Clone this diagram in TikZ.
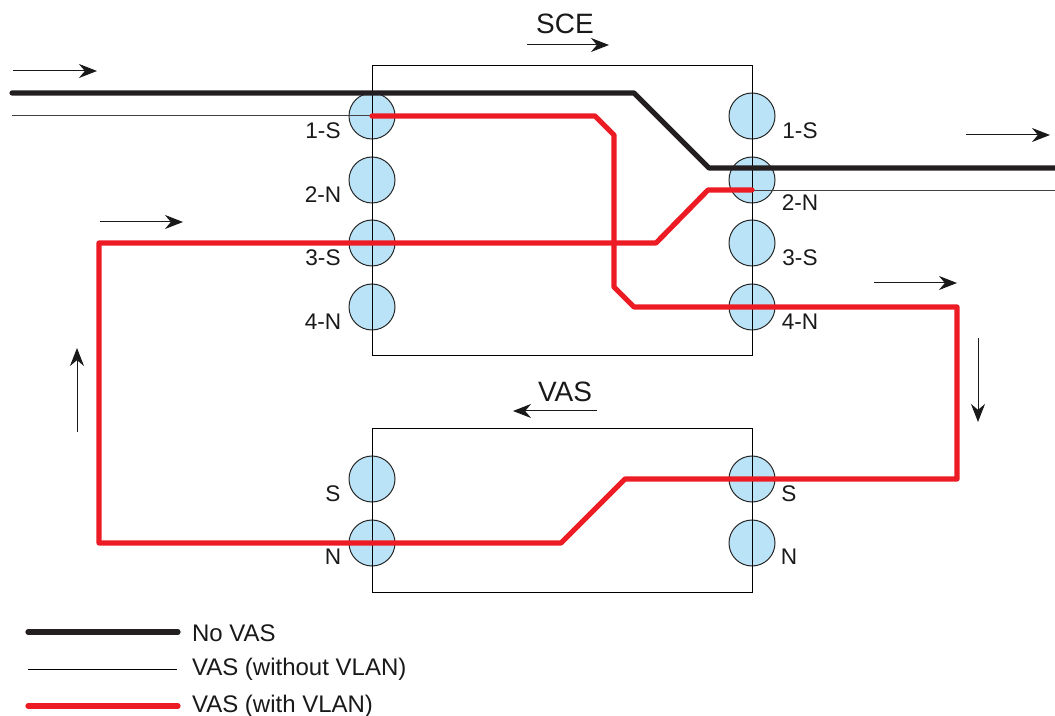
\documentclass[tikz,border=0pt]{standalone}
\usepackage{fontspec}
\setmainfont{Liberation Sans}
\usetikzlibrary{arrows.meta}
\definecolor{portblue}{RGB}{187,227,247}
\definecolor{vlanred}{RGB}{237,28,36}
\definecolor{novasblack}{RGB}{35,31,32}
\tikzset{
  port/.style={circle, draw=black!85, fill=portblue, line width=0.5pt, minimum size=23pt, inner sep=0pt},
  portlbl/.style={font=\fontsize{11.3}{13}\selectfont, text=black!90},
  boxtitle/.style={font=\fontsize{14}{16}\selectfont, text=black!90},
  legendlbl/.style={font=\fontsize{12}{14}\selectfont, text=black!90, anchor=west},
  flow/.style={-{Stealth[length=9pt,width=7pt]}, line width=0.5pt, black!90},
  novasline/.style={novasblack, line width=2.6pt, line cap=round, line join=round},
  thinline/.style={black!75, line width=0.5pt},
  vlanline/.style={vlanred, line width=2.6pt, line cap=round, line join=round},
}
\begin{document}
\begin{tikzpicture}[x=0.5pt, y=-0.5pt]
    \useasboundingbox (0,0) rectangle (1055,716);

    % SCE ports
    \node[port] (sceL1) at (372,116) {};
    \node[port] (sceL2) at (372,180) {};
    \node[port] (sceL3) at (372,243) {};
    \node[port] (sceL4) at (372,307) {};
    \node[port] (sceR1) at (752,116) {};
    \node[port] (sceR2) at (752,180) {};
    \node[port] (sceR3) at (752,243) {};
    \node[port] (sceR4) at (752,307) {};

    \node[portlbl] (lblL1) at (323,131) {1-S};
    \node[portlbl] (lblL2) at (323,195) {2-N};
    \node[portlbl] (lblL3) at (323,258) {3-S};
    \node[portlbl] (lblL4) at (323,322) {4-N};
    \node[portlbl] (lblR1) at (800,131) {1-S};
    \node[portlbl] (lblR2) at (800,203) {2-N};
    \node[portlbl] (lblR3) at (800,258) {3-S};
    \node[portlbl] (lblR4) at (800,322) {4-N};

    % VAS ports
    \node[port] (vasLS) at (372,479) {};
    \node[port] (vasLN) at (372,543) {};
    \node[port] (vasRS) at (752,479) {};
    \node[port] (vasRN) at (752,543) {};

    \node[portlbl] (lblVLS) at (333,494) {S};
    \node[portlbl] (lblVLN) at (333,557) {N};
    \node[portlbl] (lblVRS) at (789,494) {S};
    \node[portlbl] (lblVRN) at (789,557) {N};

    % boxes
    \draw[line width=0.5pt] (372,66) rectangle (752,356);
    \draw[line width=0.5pt] (372,429) rectangle (752,592);

    \node[boxtitle] (sce) at (565,24) {SCE};
    \node[boxtitle] (vas) at (565,392) {VAS};

    % traffic lines
    \coordinate (inTop) at (12,93);
    \coordinate (inThin) at (12,116);
    \coordinate (outTop) at (1055,168);
    \coordinate (outThin) at (1055,191);
    \coordinate (thinR) at (752,191);

    \draw[thinline] (inThin) -- (sceL1.center);
    \draw[thinline] (thinR) -- (outThin);
    \draw[novasline] (inTop) -- (634,93) -- (709,168) -- (outTop);
    \draw[vlanline] (sceL1.center) -- (595,116) -- (614,135) -- (614,287)
        -- (634,307) -- (sceR4.center) -- (957,307) -- (957,479)
        -- (vasRS.center) -- (625,479) -- (561,543) -- (vasLN.center)
        -- (99,543) -- (99,243) -- (sceL3.center) -- (656,243)
        -- (708,190) -- (752,190);

    % direction arrows
    \draw[flow] (13,71) -- (97,71);
    \draw[flow] (100,222) -- (183,222);
    \draw[flow] (527,45) -- (609,45);
    \draw[flow] (597,411) -- (513,411);
    \draw[flow] (966,135) -- (1050,135);
    \draw[flow] (874,283) -- (957,283);
    \draw[flow] (978,338) -- (978,422);
    \draw[flow] (77,432) -- (77,348);

    % legend
    \draw[novasline] (28,632) -- (178,632);
    \draw[thinline, black] (28,669) -- (177,669);
    \draw[vlanline] (28,706) -- (178,706);
    \node[legendlbl] (legA) at (185,633) {No VAS};
    \node[legendlbl] (legB) at (185,669) {VAS (without VLAN)};
    \node[legendlbl] (legC) at (185,706) {VAS (with VLAN)};
\end{tikzpicture}
\end{document}
